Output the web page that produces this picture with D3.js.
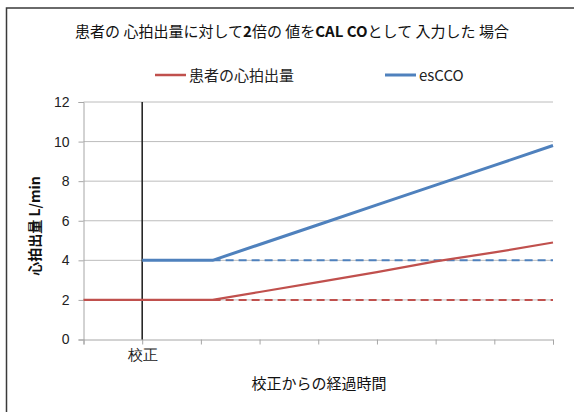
<!DOCTYPE html>
<html>
<head>
<meta charset="utf-8">
<script src="https://cdn.jsdelivr.net/npm/d3@7"></script>
<style>
  body { margin: 0; background: #fff; }
  svg { display: block; font-family: "Noto Sans CJK JP", "Noto Sans", sans-serif; }
</style>
</head>
<body>
<svg width="574" height="412"></svg>
<script>
// time since calibration (axis units), calibration at t = 1
const times = [0, 1, 2.2, 3, 4, 5, 6, 7, 8];
const patientCO = [2, 2, 2, 2.4, 2.9, 3.4, 3.95, 4.4, 4.9];
const esCCO = [null, 4, 4, 4.8, 5.8, 6.8, 7.8, 8.8, 9.8];
const refStart = 2.2;
const patientRef = 2;   // dashed red
const esCCORef = 4;     // dashed blue
const calibTime = 1;
const yTicks = [0, 2, 4, 6, 8, 10, 12];
const xTicks = [0, 1, 2, 3, 4, 5, 6, 7, 8];
const xLabels = { 1: "校正" };

const red = "#c0504d";
const blue = "#4f81bd";

const svg = d3.select("svg");

// frame
svg.append("path")
  .attr("d", "M6.5,412 V8 H574")
  .attr("fill", "none")
  .attr("stroke", "#3a3a3a")
  .attr("stroke-width", 1.5);

const x = d3.scaleLinear().domain([0, 8]).range([83.5, 553]);
const y = d3.scaleLinear().domain([0, 12]).range([339.5, 102]);

// gridlines
svg.append("g")
  .selectAll("line")
  .data(yTicks.filter(d => d > 0))
  .join("line")
  .attr("x1", x(0)).attr("x2", x(8))
  .attr("y1", d => y(d)).attr("y2", d => y(d))
  .attr("stroke", "#bcbcbc")
  .attr("stroke-width", 1);

// y axis
const yAxis = svg.append("g")
  .attr("transform", `translate(${x(0)},0)`)
  .call(d3.axisLeft(y).tickValues(yTicks).tickSize(5).tickPadding(9));
yAxis.select(".domain").attr("stroke", "#a6a6a6");
yAxis.selectAll(".tick line").attr("stroke", "#a6a6a6");
yAxis.selectAll(".tick text")
  .attr("font-size", 14)
  .attr("fill", "#222")
  .style("font-family", "'Liberation Sans', Arial, sans-serif");

// x axis
const xAxis = svg.append("g")
  .attr("transform", `translate(0,${y(0)})`)
  .call(d3.axisBottom(x).tickValues(xTicks).tickSize(5).tickPadding(5)
    .tickFormat(d => xLabels[d] || ""));
xAxis.select(".domain").attr("stroke", "#a6a6a6");
xAxis.selectAll(".tick line").attr("stroke", "#a6a6a6");
xAxis.selectAll(".tick text").attr("font-size", 15).attr("fill", "#222");

// calibration line
svg.append("line")
  .attr("x1", x(calibTime)).attr("x2", x(calibTime))
  .attr("y1", y(0)).attr("y2", y(12))
  .attr("stroke", "#1a1a1a")
  .attr("stroke-width", 1.5);

// dashed reference lines
const refs = [
  { v: patientRef, c: red, w: 2 },
  { v: esCCORef, c: blue, w: 2 }
];
svg.append("g")
  .selectAll("line")
  .data(refs)
  .join("line")
  .attr("x1", x(refStart)).attr("x2", x(8))
  .attr("y1", d => y(d.v)).attr("y2", d => y(d.v))
  .attr("stroke", d => d.c)
  .attr("stroke-width", d => d.w)
  .attr("stroke-dasharray", "8,5");

const line = d3.line()
  .defined(d => d[1] != null)
  .x(d => x(d[0]))
  .y(d => y(d[1]));

svg.append("path")
  .datum(times.map((t, i) => [t, patientCO[i]]))
  .attr("d", line)
  .attr("fill", "none")
  .attr("stroke", red)
  .attr("stroke-width", 2.2);

svg.append("path")
  .datum(times.map((t, i) => [t, esCCO[i]]))
  .attr("d", line)
  .attr("fill", "none")
  .attr("stroke", blue)
  .attr("stroke-width", 3);

// title
const title = svg.append("text")
  .attr("x", 292).attr("y", 37)
  .attr("text-anchor", "middle")
  .attr("font-size", 15)
  .attr("fill", "#111");
title.append("tspan").text("患者の 心拍出量に対して");
title.append("tspan").attr("font-weight", "bold").text("2");
title.append("tspan").text("倍の 値を");
title.append("tspan").attr("font-weight", "bold").text("CAL CO");
title.append("tspan").text("として 入力した 場合");

// legend
const legend = [
  { name: "患者の心拍出量", c: red, x0: 155, w: 2.5 },
  { name: "esCCO", c: blue, x0: 385, w: 3 }
];
const lg = svg.append("g")
  .selectAll("g")
  .data(legend)
  .join("g")
  .attr("transform", d => `translate(${d.x0},75)`);
lg.append("line")
  .attr("x1", 0).attr("x2", 31)
  .attr("stroke", d => d.c)
  .attr("stroke-width", d => d.w);
lg.append("text")
  .attr("x", 34).attr("y", 5.5)
  .attr("font-size", 15)
  .attr("fill", "#222")
  .text(d => d.name);

// axis titles
svg.append("text")
  .attr("transform", "translate(40,226) rotate(-90)")
  .attr("text-anchor", "middle")
  .attr("font-size", 14)
  .attr("font-weight", "bold")
  .attr("fill", "#111")
  .text("心拍出量 L/min");

svg.append("text")
  .attr("x", 319).attr("y", 389)
  .attr("text-anchor", "middle")
  .attr("font-size", 15)
  .attr("fill", "#111")
  .text("校正からの経過時間");
</script>
</body>
</html>
